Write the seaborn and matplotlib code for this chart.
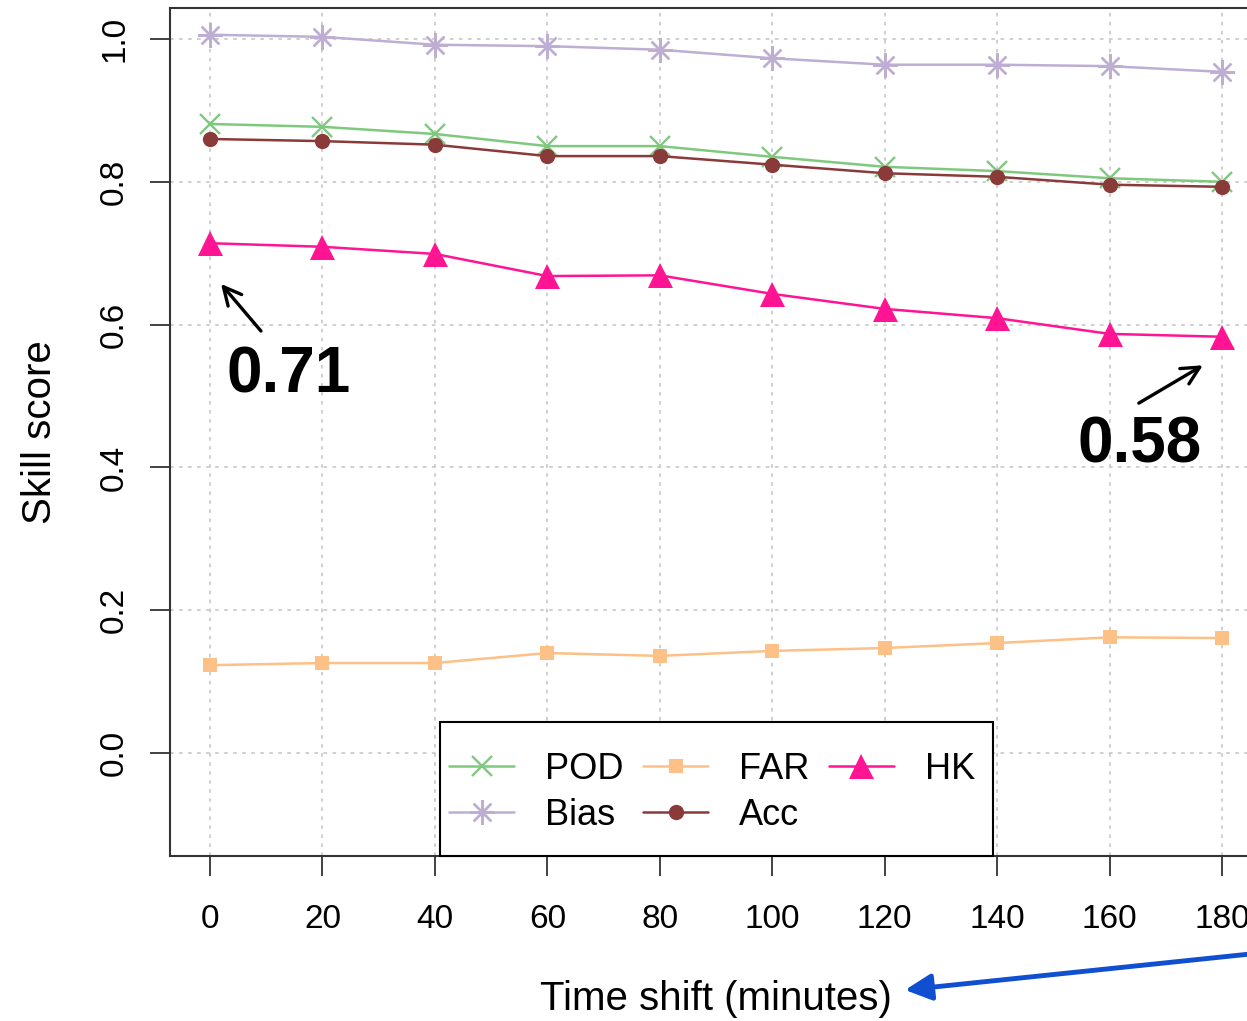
import matplotlib
matplotlib.use("Agg")
import matplotlib.pyplot as plt
import seaborn as sns
import numpy as np
import pandas as pd
from matplotlib.patches import Rectangle, FancyArrowPatch

time_shift = [0, 20, 40, 60, 80, 100, 120, 140, 160, 180]
pod  = [0.881, 0.877, 0.867, 0.850, 0.850, 0.835, 0.821, 0.815, 0.805, 0.800]
bias = [1.006, 1.003, 0.992, 0.990, 0.985, 0.973, 0.964, 0.964, 0.962, 0.954]
acc  = [0.860, 0.857, 0.852, 0.836, 0.836, 0.824, 0.812, 0.807, 0.796, 0.793]
hk   = [0.714, 0.709, 0.699, 0.668, 0.669, 0.643, 0.622, 0.609, 0.587, 0.583]
far  = [0.123, 0.126, 0.126, 0.140, 0.136, 0.143, 0.147, 0.154, 0.162, 0.161]

x_ticks = [0, 20, 40, 60, 80, 100, 120, 140, 160, 180]
y_ticks = [0.0, 0.2, 0.4, 0.6, 0.8, 1.0]
y_tick_labels = ["0.0", "0.2", "0.4", "0.6", "0.8", "1.0"]

sns.set_style("white")
plt.rcParams['font.family'] = ['Liberation Sans', 'DejaVu Sans']
for k in ["text.color", "axes.labelcolor", "xtick.color", "ytick.color"]:
    plt.rcParams[k] = "black"

W, H = 1247, 1021
fig = plt.figure(figsize=(W / 100, H / 100), dpi=100)
ax_left, ax_right = 169.5, 1262.5
ax_top, ax_bot = 7.6, 855.8
ax = fig.add_axes([ax_left / W, 1 - ax_bot / H, (ax_right - ax_left) / W, (ax_bot - ax_top) / H])

series = [
    ("POD", pod, "#7FC97F", "x", 15),
    ("FAR", far, "#FDC086", "s", 10),
    ("HK", hk, "#FF1493", "^", 18),
    ("Bias", bias, "#BEAED4", (8, 2, 0), 18),
    ("Acc", acc, "#8B3A3A", "o", 11),
]
handles = {}
for name, vals, col, mk, ms in series:
    df = pd.DataFrame({"t": time_shift, "v": vals})
    sns.lineplot(data=df, x="t", y="v", ax=ax, color=col, marker=mk, markersize=ms,
                 markeredgecolor=col, markeredgewidth=1.7 if mk in ("x", (8, 2, 0)) else 0,
                 linewidth=1.8, label=name, legend=False)
    handles[name] = ax.lines[-1]

ax.set_xlim(-7.2, 187.2)
ax.set_ylim(-0.144, 1.044)
ax.set_xticks(x_ticks)
ax.set_xticklabels([str(v) for v in x_ticks])
ax.set_yticks(y_ticks)
ax.set_yticklabels(y_tick_labels, rotation=90, va="center")

ax.grid(True, color="#cccccc", linestyle=(0, (2, 3)), linewidth=1.3)
for s in ["left", "bottom", "top", "right"]:
    ax.spines[s].set_color("#333333")
    ax.spines[s].set_linewidth(1.5)
ax.tick_params(axis="both", which="major", length=14.4, width=1.3, color="#333333",
               labelsize=24, direction="out", bottom=True, left=True)
ax.tick_params(axis="x", pad=20)
ax.tick_params(axis="y", pad=14)

ax.set_xlabel("Time shift (minutes)", fontsize=29, labelpad=33)
ax.set_ylabel("Skill score", fontsize=29, labelpad=29)

# legend box
lx0 = (440 - 210) / 5.622
lx1 = (993 - 210) / 5.622
ly1 = (753 - 722) / 714
ax.add_patch(Rectangle((lx0, -0.144), lx1 - lx0, ly1 + 0.144, fill=True, facecolor="white",
                       edgecolor="black", linewidth=1.5, zorder=5, clip_on=False))
order = ["POD", "Bias", "FAR", "Acc", "HK"]
leg = ax.legend([handles[n] for n in order], order, loc="upper left",
                bbox_to_anchor=(449 / W, 1 - 752 / H), bbox_transform=fig.transFigure,
                ncol=3, frameon=False, fontsize=26, borderpad=0, borderaxespad=0,
                handlelength=1.8, handletextpad=0.85, columnspacing=0.55, labelspacing=0.3)
leg.set_zorder(6)

# annotations
ax.text(13.9, 0.529, "0.71", fontsize=46, fontweight="bold", ha="center", va="center")
ax.text(165.4, 0.431, "0.58", fontsize=46, fontweight="bold", ha="center", va="center")
arrow_kw = dict(arrowstyle="->", color="black", lw=2.4, mutation_scale=32, shrinkA=0, shrinkB=0)
ax.annotate("", xy=(1.96, 0.657), xytext=(9.07, 0.591), arrowprops=arrow_kw)
ax.annotate("", xy=(176.6, 0.543), xytext=(165.2, 0.490), arrowprops=arrow_kw)

fig.patches.append(FancyArrowPatch(
    (1260, H - 953), (905, H - 990), transform=None, arrowstyle="-|>",
    mutation_scale=40, color="#0F4FD0", lw=3.5, shrinkA=0, shrinkB=0))

fig.savefig("out.png", dpi=100)
